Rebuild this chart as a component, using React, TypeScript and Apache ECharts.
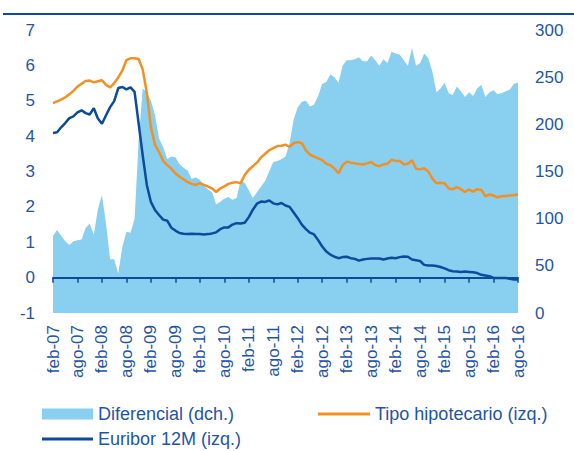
import React, { useEffect, useRef } from "react";
import * as echarts from "echarts";

const monthNames = ["ene", "feb", "mar", "abr", "may", "jun", "jul", "ago", "sep", "oct", "nov", "dic"];
const startYear = 2007;
const startMonth = 1; // feb
const monthCount = 115; // feb-07 .. ago-16

const categories: string[] = [];
for (let i = 0; i < monthCount; i++) {
  const m = (startMonth + i) % 12;
  const y = startYear + Math.floor((startMonth + i) / 12);
  categories.push(`${monthNames[m]}-${String(y % 100).padStart(2, "0")}`);
}

const leftTicks = { min: -1, max: 7, interval: 1 };
const rightTicks = { min: 0, max: 300, interval: 50 };

// Euribor 12M (%, left axis)
const euribor = [
  4.09, 4.11, 4.25, 4.37, 4.51, 4.56, 4.67, 4.73, 4.65, 4.61, 4.79,
  4.5, 4.35, 4.59, 4.82, 4.99, 5.36, 5.39, 5.32, 5.38, 5.25, 4.35, 3.45,
  2.62, 2.14, 1.91, 1.77, 1.64, 1.61, 1.41, 1.33, 1.26, 1.24, 1.23, 1.24,
  1.23, 1.23, 1.22, 1.23, 1.25, 1.28, 1.37, 1.42, 1.42, 1.5, 1.54, 1.53,
  1.55, 1.71, 1.92, 2.09, 2.15, 2.14, 2.18, 2.1, 2.07, 2.11, 2.04, 2.0,
  1.84, 1.68, 1.5, 1.37, 1.27, 1.22, 1.06, 0.88, 0.74, 0.65, 0.59, 0.55,
  0.58, 0.59, 0.55, 0.53, 0.48, 0.51, 0.53, 0.54, 0.54, 0.54, 0.51, 0.54,
  0.56, 0.55, 0.58, 0.6, 0.59, 0.51, 0.49, 0.47, 0.36, 0.34, 0.34, 0.33,
  0.3, 0.26, 0.21, 0.18, 0.17, 0.16, 0.17, 0.16, 0.15, 0.13, 0.08, 0.06,
  0.04, -0.01, -0.01, -0.01, -0.01, -0.03, -0.05, -0.05,
];

// Tipo hipotecario (%, left axis)
const tipoHipotecario = [
  4.93, 4.98, 5.03, 5.1, 5.18, 5.28, 5.4, 5.48, 5.56, 5.57, 5.52,
  5.55, 5.58, 5.45, 5.38, 5.5, 5.66, 5.85, 6.15, 6.2, 6.2, 6.18, 5.88,
  5.22, 4.25, 3.75, 3.55, 3.3, 3.18, 3.08, 2.95, 2.85, 2.78, 2.7, 2.65,
  2.62, 2.67, 2.62, 2.57, 2.52, 2.42, 2.52, 2.58, 2.65, 2.68, 2.7, 2.67,
  2.9, 3.05, 3.15, 3.25, 3.4, 3.5, 3.6, 3.66, 3.72, 3.73, 3.76, 3.7,
  3.8, 3.83, 3.8, 3.6, 3.48, 3.42, 3.37, 3.32, 3.22, 3.18, 3.08, 2.95,
  3.18, 3.28, 3.25, 3.23, 3.21, 3.2, 3.23, 3.27, 3.18, 3.15, 3.2, 3.22,
  3.33, 3.3, 3.3, 3.2, 3.22, 3.32, 3.08, 3.06, 3.09, 3.0, 2.8, 2.67,
  2.68, 2.67, 2.52, 2.5, 2.56, 2.5, 2.42, 2.49, 2.43, 2.5, 2.48, 2.3,
  2.35, 2.32, 2.27, 2.3, 2.31, 2.32, 2.33, 2.36,
];

// Diferencial (p.b., right axis)
const diferencial = [
  82, 88, 82, 76, 72, 76, 77, 78, 90, 95, 83,
  110, 125, 95, 57, 57, 42, 70, 86, 85, 100, 183, 238,
  234, 225, 210, 185, 176, 163, 166, 165, 158, 154, 151, 142,
  144, 141, 135, 131, 128, 115, 118, 121, 123, 120, 122, 140,
  138, 130, 122, 128, 134, 140, 150, 160, 161, 163, 166, 180,
  205, 218, 224, 225, 219, 221, 230, 243, 245, 253, 250, 244,
  262, 268, 268, 269, 271, 267, 267, 273, 268, 262, 269, 265,
  277, 275, 274, 268, 262, 281, 262, 265, 275, 270, 256, 234,
  238, 244, 233, 231, 240, 235, 229, 234, 230, 238, 242, 229,
  234, 236, 232, 233, 235, 237, 243, 244,
];

const TXT = "#1F55A5";
const DARK = "#0C4A9C";
const ORANGE = "#F39022";
const LIGHT = "#89CFF0";
const FONT = "'Liberation Sans', Arial, sans-serif";

export default function App() {
  const ref = useRef<HTMLDivElement>(null);
  useEffect(() => {
    if (!ref.current) return;
    const chart = echarts.init(ref.current, undefined, { renderer: "svg" });
    chart.setOption({
      animation: false,
      textStyle: { fontFamily: FONT },
      grid: { left: 53, right: 56, top: 30, bottom: 138 },
      graphic: [
        {
          type: "line",
          shape: { x1: 3, y1: 14, x2: 574, y2: 14 },
          style: { stroke: DARK, lineWidth: 2 },
        },
      ],
      legend: [
        {
          data: ["Diferencial (dch.)"],
          left: 42, top: 405, padding: 0, icon: "rect",
          itemWidth: 51, itemHeight: 11, selectedMode: false,
          textStyle: { fontSize: 18, color: TXT, fontFamily: FONT },
        },
        {
          data: ["Tipo hipotecario (izq.)"],
          left: 318, top: 405, padding: 0, icon: "rect",
          itemWidth: 52, itemHeight: 3, selectedMode: false,
          textStyle: { fontSize: 18, color: TXT, fontFamily: FONT },
        },
        {
          data: ["Euribor 12M (izq.)"],
          left: 42, top: 430, padding: 0, icon: "rect",
          itemWidth: 51, itemHeight: 3, selectedMode: false,
          textStyle: { fontSize: 18, color: TXT, fontFamily: FONT },
        },
      ],
      xAxis: [
        {
          type: "category",
          data: categories,
          boundaryGap: false,
          position: "bottom",
          axisLine: { show: false, onZero: false },
          axisTick: { show: false },
          axisLabel: {
            interval: 5, rotate: 90, fontSize: 17, color: TXT, margin: 12, fontFamily: FONT,
          },
          splitLine: { show: false },
        },
        {
          type: "category",
          data: categories,
          boundaryGap: false,
          position: "bottom",
          z: 10,
          axisLine: { show: true, onZero: true, onZeroAxisIndex: 0, lineStyle: { color: DARK, width: 2 } },
          axisTick: { show: true, interval: 5, length: 5, lineStyle: { color: DARK, width: 1.5 } },
          axisLabel: { show: false },
          splitLine: { show: false },
        },
      ],
      yAxis: [
        {
          type: "value",
          ...leftTicks,
          position: "left",
          axisLine: { show: false },
          axisTick: { show: false },
          splitLine: { show: false },
          axisLabel: { fontSize: 17, color: TXT, margin: 18, fontFamily: FONT },
        },
        {
          type: "value",
          ...rightTicks,
          position: "right",
          axisLine: { show: false },
          axisTick: { show: false },
          splitLine: { show: false },
          axisLabel: { fontSize: 17, color: TXT, margin: 17, fontFamily: FONT },
        },
      ],
      series: [
        {
          name: "Diferencial (dch.)",
          type: "line",
          yAxisIndex: 1,
          data: diferencial,
          symbol: "none",
          color: LIGHT,
          lineStyle: { width: 0, color: LIGHT },
          areaStyle: { color: LIGHT, opacity: 1 },
          z: 1,
        },
        {
          name: "Tipo hipotecario (izq.)",
          type: "line",
          yAxisIndex: 0,
          data: tipoHipotecario,
          symbol: "none",
          color: ORANGE,
          lineStyle: { width: 2.5, color: ORANGE },
          z: 3,
        },
        {
          name: "Euribor 12M (izq.)",
          type: "line",
          yAxisIndex: 0,
          data: euribor,
          symbol: "none",
          color: DARK,
          lineStyle: { width: 2.5, color: DARK },
          z: 4,
        },
      ],
    });
    return () => chart.dispose();
  }, []);
  return (
    <div
      ref={ref}
      style={{ position: "absolute", left: 0, top: 0, width: 574, height: 451, background: "#fff" }}
    />
  );
}
